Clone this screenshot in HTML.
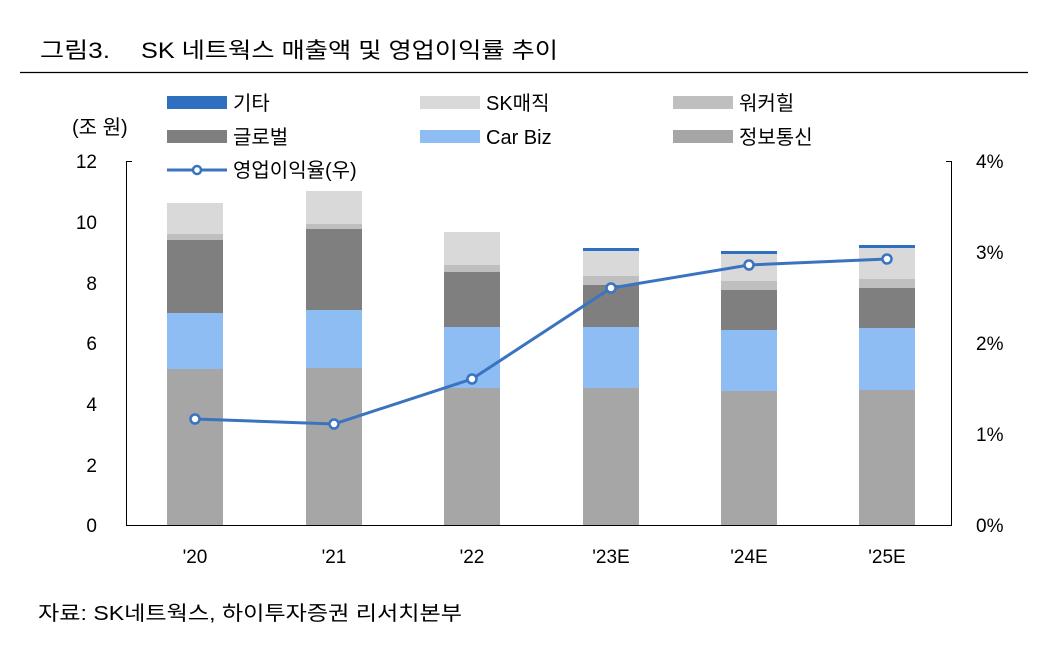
<!DOCTYPE html>
<html><head><meta charset="utf-8"><style>
body{margin:0;background:#fff}
svg text{font-family:"Liberation Sans","Noto Sans CJK KR",sans-serif;fill:#000}
</style></head><body>
<svg width="1042" height="650" xmlns="http://www.w3.org/2000/svg">
<text x="40" y="58" font-size="22" textLength="70" lengthAdjust="spacingAndGlyphs">그림3.</text>
<text x="141" y="58" font-size="22" textLength="417" lengthAdjust="spacingAndGlyphs">SK 네트웍스 매출액 및 영업이익률 추이</text>
<line x1="20" y1="72.5" x2="1028" y2="72.5" stroke="#000" stroke-width="1.2"/>
<g font-size="20">
<rect x="167" y="96" width="60" height="13" fill="#2f6fbf"/><text x="233" y="110">기타</text>
<rect x="420" y="96" width="60" height="13" fill="#d9d9d9"/><text x="486" y="110">SK매직</text>
<rect x="673" y="96" width="60" height="13" fill="#bfbfbf"/><text x="739" y="110">워커힐</text>
<rect x="167" y="130" width="60" height="13" fill="#7f7f7f"/><text x="233" y="144">글로벌</text>
<rect x="420" y="130" width="60" height="13" fill="#8dbdf2"/><text x="486" y="144">Car Biz</text>
<rect x="673" y="130" width="60" height="13" fill="#a6a6a6"/><text x="739" y="144">정보통신</text>
<line x1="167" y1="170" x2="227" y2="170" stroke="#3a73c0" stroke-width="3"/><circle cx="197" cy="170" r="4" fill="#fff" stroke="#3a73c0" stroke-width="2.5"/>
<text x="233" y="177">영업이익율(우)</text>
<text x="72" y="134">(조 원)</text>
</g>
<g font-size="19" text-anchor="end">
<text x="97" y="168">12</text><text x="97" y="229">10</text><text x="97" y="290">8</text><text x="97" y="350">6</text><text x="97" y="411">4</text><text x="97" y="472">2</text><text x="97" y="532">0</text>
</g>
<g font-size="19">
<text x="976" y="168">4%</text><text x="976" y="259">3%</text><text x="976" y="350">2%</text><text x="976" y="441">1%</text><text x="976" y="532">0%</text>
</g>
<g stroke="#000" stroke-width="1">
<line x1="126.5" y1="161" x2="126.5" y2="525"/><line x1="126" y1="161.5" x2="132" y2="161.5"/>
<line x1="951.5" y1="161" x2="951.5" y2="525"/><line x1="946" y1="161.5" x2="952" y2="161.5"/>
<line x1="126" y1="525.5" x2="952" y2="525.5"/>
</g>
<g>
<rect x="167" y="369" width="56" height="156" fill="#a6a6a6"/>
<rect x="167" y="313" width="56" height="56" fill="#8dbdf2"/>
<rect x="167" y="240" width="56" height="73" fill="#7f7f7f"/>
<rect x="167" y="234" width="56" height="6" fill="#bfbfbf"/>
<rect x="167" y="203" width="56" height="31" fill="#d9d9d9"/>
<rect x="306" y="368" width="56" height="157" fill="#a6a6a6"/>
<rect x="306" y="310" width="56" height="58" fill="#8dbdf2"/>
<rect x="306" y="229" width="56" height="81" fill="#7f7f7f"/>
<rect x="306" y="224" width="56" height="5" fill="#bfbfbf"/>
<rect x="306" y="191" width="56" height="33" fill="#d9d9d9"/>
<rect x="444" y="388" width="56" height="137" fill="#a6a6a6"/>
<rect x="444" y="327" width="56" height="61" fill="#8dbdf2"/>
<rect x="444" y="272" width="56" height="55" fill="#7f7f7f"/>
<rect x="444" y="265" width="56" height="7" fill="#bfbfbf"/>
<rect x="444" y="232" width="56" height="33" fill="#d9d9d9"/>
<rect x="583" y="388" width="56" height="137" fill="#a6a6a6"/>
<rect x="583" y="327" width="56" height="61" fill="#8dbdf2"/>
<rect x="583" y="285" width="56" height="42" fill="#7f7f7f"/>
<rect x="583" y="276" width="56" height="9" fill="#bfbfbf"/>
<rect x="583" y="251" width="56" height="25" fill="#d9d9d9"/>
<rect x="583" y="248" width="56" height="3" fill="#2f6fbf"/>
<rect x="721" y="391" width="56" height="134" fill="#a6a6a6"/>
<rect x="721" y="330" width="56" height="61" fill="#8dbdf2"/>
<rect x="721" y="290" width="56" height="40" fill="#7f7f7f"/>
<rect x="721" y="281" width="56" height="9" fill="#bfbfbf"/>
<rect x="721" y="254" width="56" height="27" fill="#d9d9d9"/>
<rect x="721" y="251" width="56" height="3" fill="#2f6fbf"/>
<rect x="859" y="390" width="56" height="135" fill="#a6a6a6"/>
<rect x="859" y="328" width="56" height="62" fill="#8dbdf2"/>
<rect x="859" y="288" width="56" height="40" fill="#7f7f7f"/>
<rect x="859" y="279" width="56" height="9" fill="#bfbfbf"/>
<rect x="859" y="248" width="56" height="31" fill="#d9d9d9"/>
<rect x="859" y="245" width="56" height="3" fill="#2f6fbf"/>
</g>
<polyline points="195,419 334,424 472,379 611,288 749,265 887,259" fill="none" stroke="#3a73c0" stroke-width="3"/>
<g fill="#fff" stroke="#3a73c0" stroke-width="2.5">
<circle cx="195" cy="419" r="4.5"/><circle cx="334" cy="424" r="4.5"/><circle cx="472" cy="379" r="4.5"/><circle cx="611" cy="288" r="4.5"/><circle cx="749" cy="265" r="4.5"/><circle cx="887" cy="259" r="4.5"/>
</g>
<g font-size="19" text-anchor="middle">
<text x="195" y="563">'20</text><text x="334" y="563">'21</text><text x="472" y="563">'22</text><text x="611" y="563">'23E</text><text x="749" y="563">'24E</text><text x="887" y="563">'25E</text>
</g>
<text x="38" y="620" font-size="20" textLength="424" lengthAdjust="spacingAndGlyphs">자료: SK네트웍스, 하이투자증권 리서치본부</text>
</svg>
</body></html>
